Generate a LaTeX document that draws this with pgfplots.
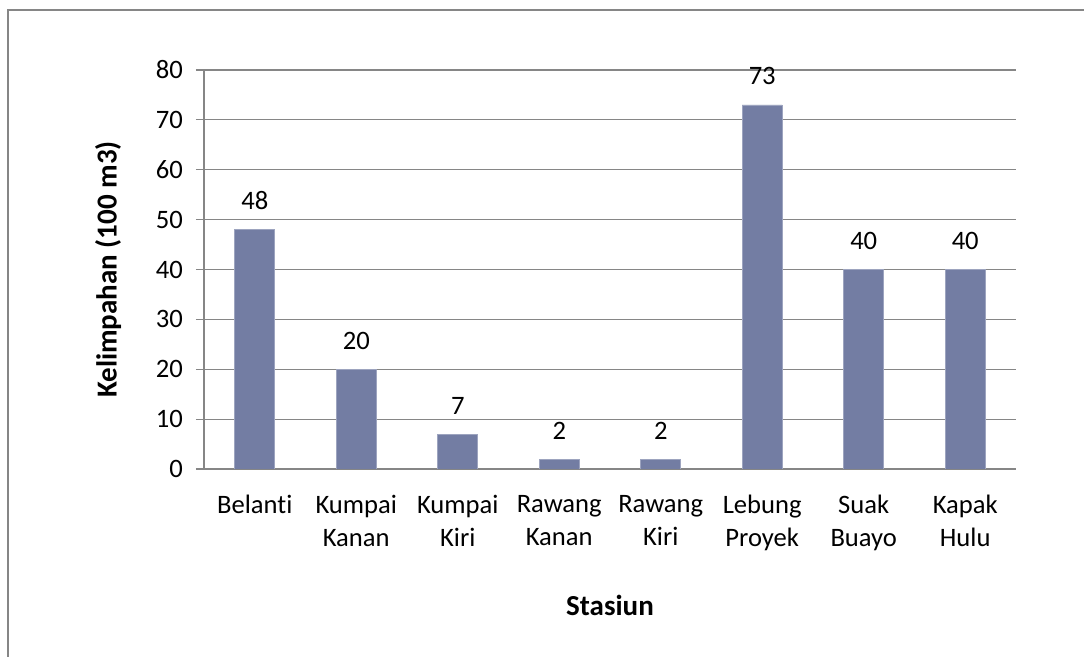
\documentclass[border=0pt]{standalone}
\usepackage{pgfplots}
\pgfplotsset{compat=1.18}
\usepackage{fontspec}
\setmainfont[Ligatures=NoCommon]{Carlito}
\definecolor{barcol}{RGB}{115,125,163}
\definecolor{gridcol}{RGB}{134,134,134}
\begin{document}
\fontsize{13}{16}\selectfont
\begin{tikzpicture}
\useasboundingbox (0,0) rectangle (542pt,328.5pt);
\draw[gridcol, line width=0.6pt] (4pt,0) -- (4pt,323.5pt) -- (542pt,323.5pt);
\begin{axis}[
  at={(102pt,94pt)}, anchor=south west,
  scale only axis, width=406pt, height=199.5pt,
  ymin=0, ymax=80, ytick={0,10,...,80},
  xmin=-0.5, xmax=7.5,
  xtick={0,...,7},
  xticklabels={Belanti, Kumpai\\Kanan, Kumpai\\Kiri, Rawang\\Kanan, Rawang\\Kiri, Lebung\\Proyek, Suak\\Buayo, Kapak\\Hulu},
  xticklabel style={align=center, anchor=north, yshift=-4.5pt, font=\fontsize{13.3}{16.5}\selectfont},
  yticklabel style={font=\fontsize{13.3}{16}\selectfont, xshift=-2pt},
  /pgf/number format/assume math mode=true,
  axis x line*=bottom, axis y line*=left,
  x axis line style={gridcol, line width=0.6pt, -},
  y axis line style={gridcol, line width=0.6pt, -},
  ymajorgrids, grid style={gridcol, line width=0.6pt},
  major tick length=4pt, tick align=outside,
  ytick style={gridcol, line width=0.6pt},
  xtick style={draw=none},
  ylabel={\textbf{Kelimpahan (100 m3)}},
  ylabel style={font=\fontsize{14.5}{17}\selectfont, at={(axis description cs:-0.118,0.5)}, anchor=center},
  xlabel={\textbf{Stasiun}},
  xlabel style={font=\fontsize{14.5}{17}\selectfont, at={(axis description cs:0.5,-0.341)}, anchor=center},
  nodes near coords,
  nodes near coords style={font=\fontsize{13.3}{16}\selectfont, black, yshift=5.5pt},
  point meta=y,
]
\addplot[ybar, bar width=20pt, fill=barcol, draw=barcol!70!white, line width=0.3pt] coordinates {
(0,48) (1,20) (2,7) (3,2) (4,2) (5,73) (6,40) (7,40)};
\end{axis}
\end{tikzpicture}
\end{document}
